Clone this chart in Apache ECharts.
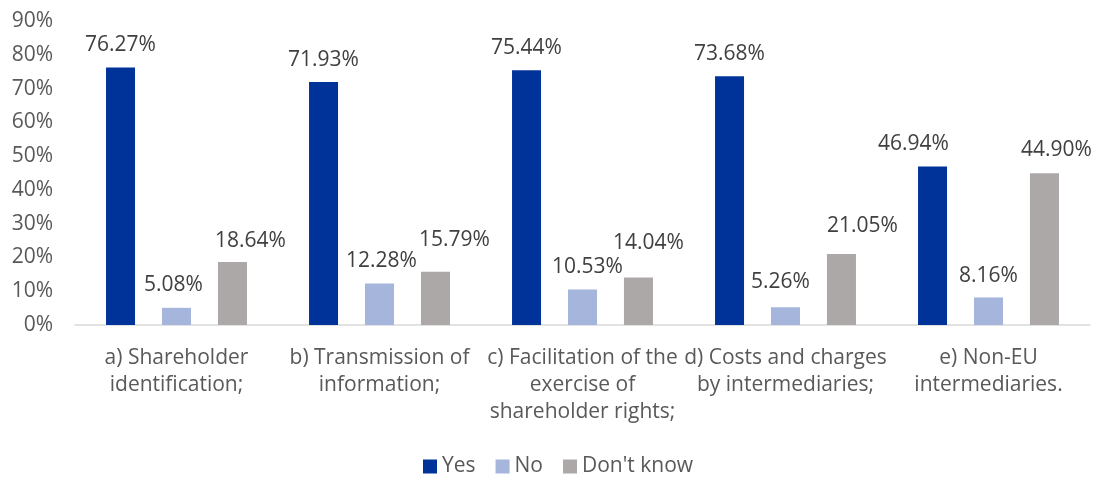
<!DOCTYPE html>
<html><head><meta charset="utf-8">
<script src="https://cdn.jsdelivr.net/npm/echarts@6/dist/echarts.min.js"></script>
<style>html,body{margin:0;padding:0;background:#fff}#c{width:1099px;height:479px}</style>
</head><body><div id="c"></div>
<script>
const categories = ["a) Shareholder\nidentification;", "b) Transmission of\ninformation;", "c) Facilitation of the\nexercise of\nshareholder rights;", "d) Costs and charges\nby intermediaries;", "e) Non-EU\nintermediaries."];
const yesValues = [76.27, 71.93, 75.44, 73.68, 46.94];
const noValues = [5.08, 12.28, 10.53, 5.26, 8.16];
const dontKnowValues = [18.64, 15.79, 14.04, 21.05, 44.90];
const seriesNames = ["Yes", "No", "Don't know"];
const yTicks = [0, 10, 20, 30, 40, 50, 60, 70, 80, 90];

// manual label nudges (pixels), as placed in the original chart
const yesLabelNudge = [[0, 0], [0, 0], [0, 0], [0, 0], [-19, 0]];
const noLabelNudge = [[-3, 0], [2, 0], [5, 0], [-5, -3], [0, 1]];
const dkLabelNudge = [[18, 1], [19, -9], [10, -12], [21, -5], [12, -1]];

const FONT = 'Open Sans';
const FS = 21;
const chart = echarts.init(document.getElementById('c'));
const label = {
  show: true, position: 'top', distance: 12,
  color: '#404040', fontSize: FS, fontFamily: FONT,
  formatter: p => p.value.toFixed(2) + '%'
};
function mk(name, values, nudges, color) {
  return { name, type: 'bar',
    data: values.map((v, i) => ({ value: v, label: { offset: nudges[i] } })),
    barWidth: 29, barGap: '93%', barCategoryGap: '30%',
    itemStyle: { color }, label };
}
chart.setOption({
  animation: false,
  textStyle: { fontFamily: FONT },
  grid: { left: 75, right: 9, top: 21, bottom: 154, containLabel: false },
  legend: {
    top: 456, left: 423, padding: 0, itemWidth: 14, itemHeight: 14, itemGap: 20,
    icon: 'rect',
    textStyle: { color: '#595959', fontSize: FS, fontFamily: FONT }
  },
  xAxis: {
    type: 'category', data: categories,
    axisLine: { lineStyle: { color: '#D9D9D9', width: 1.5 } },
    axisTick: { show: false },
    axisLabel: { interval: 0, color: '#595959', fontSize: FS, fontFamily: FONT, lineHeight: 27, margin: 20 }
  },
  yAxis: {
    type: 'value', min: yTicks[0], max: yTicks[yTicks.length - 1], interval: 10,
    splitLine: { show: false },
    axisLine: { show: false }, axisTick: { show: false },
    axisLabel: { color: '#595959', fontSize: FS, fontFamily: FONT, margin: 22, formatter: v => v + '%' }
  },
  series: [
    mk(seriesNames[0], yesValues, yesLabelNudge, '#003399'),
    mk(seriesNames[1], noValues, noLabelNudge, '#A5B5DC'),
    mk(seriesNames[2], dontKnowValues, dkLabelNudge, '#ACA8A7')
  ]
});
</script></body></html>
